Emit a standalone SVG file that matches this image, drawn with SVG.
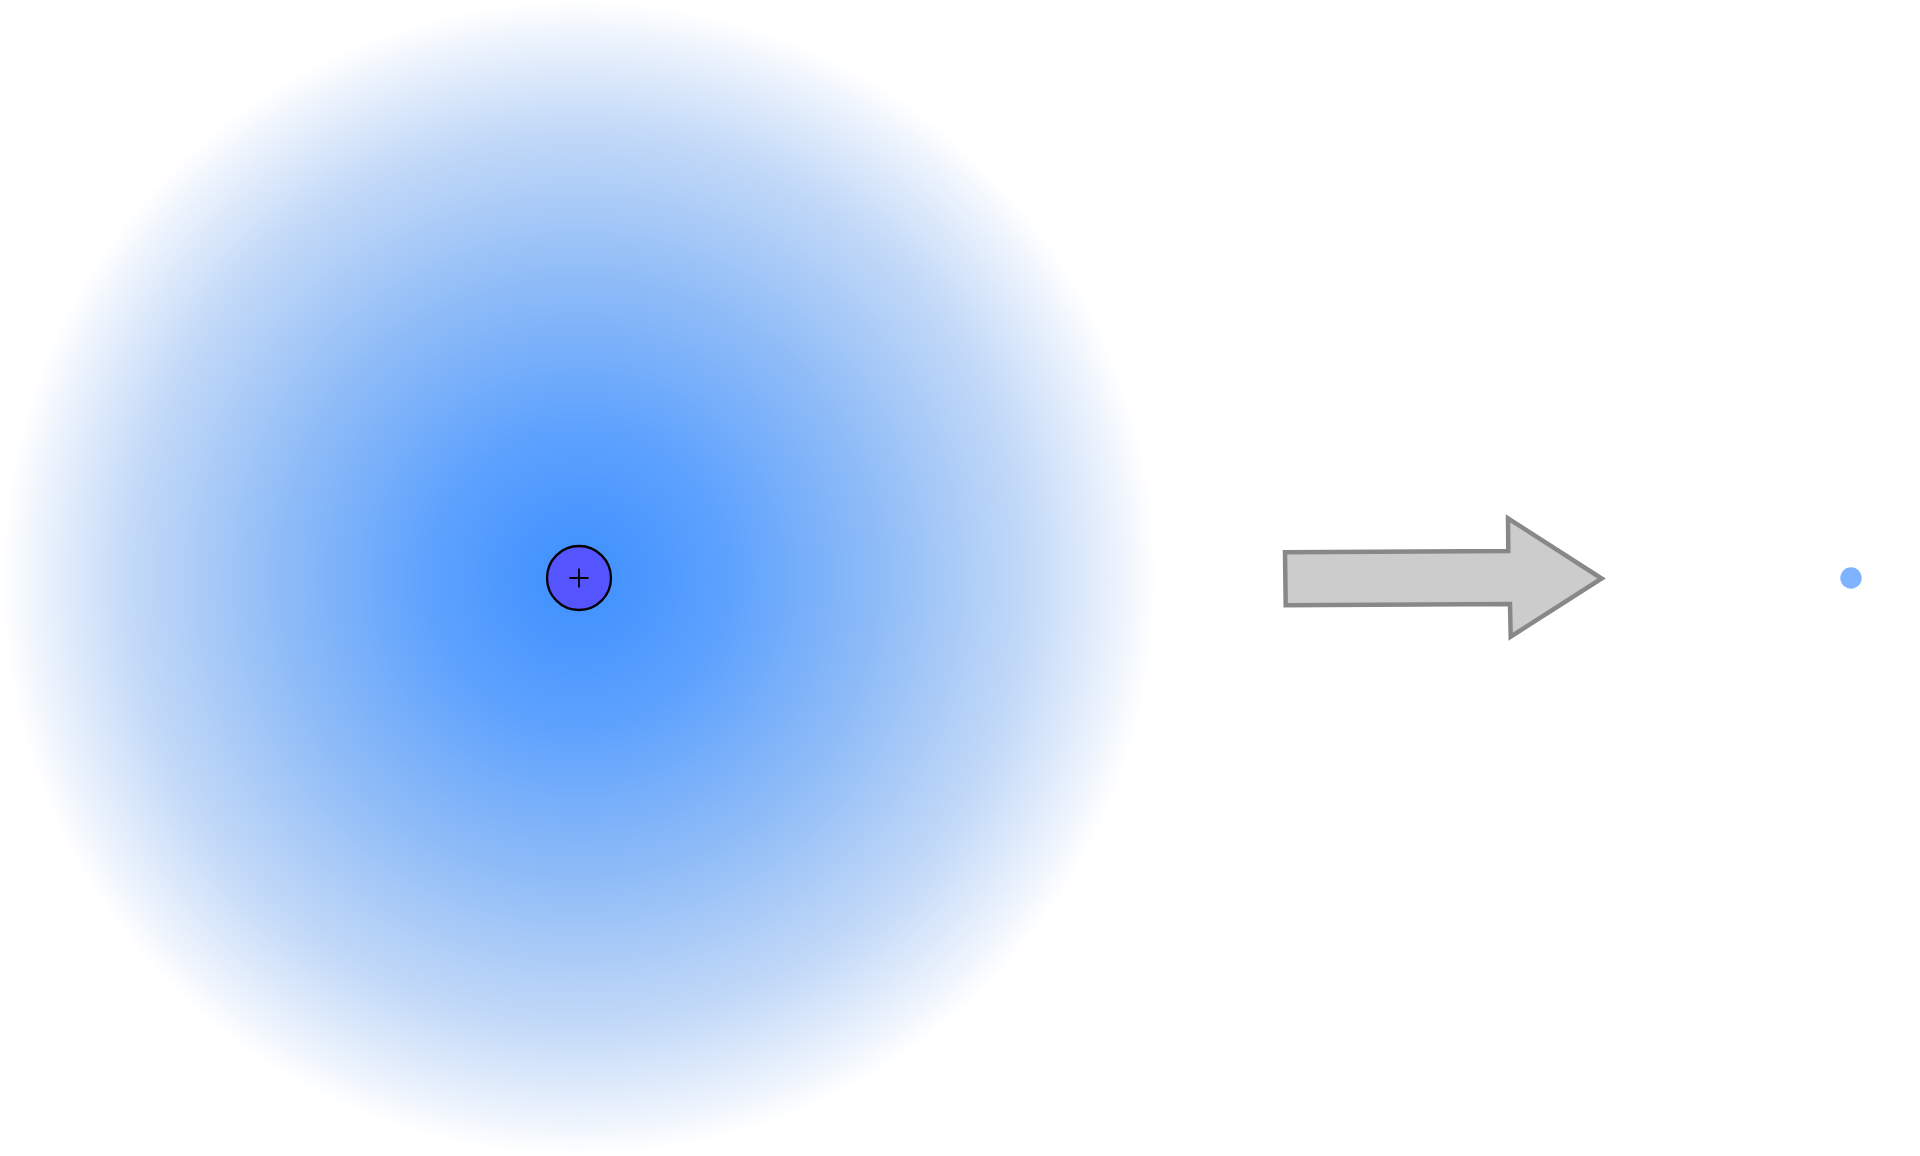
<svg xmlns="http://www.w3.org/2000/svg" width="1920" height="1156" viewBox="0 0 1920 1156">
  <defs>
    <radialGradient id="cloud" cx="579" cy="578" r="578" gradientUnits="userSpaceOnUse">
      <stop offset="0" stop-color="#3d8ffe" stop-opacity="1"/>
      <stop offset="0.26" stop-color="#3d8ffe" stop-opacity="0.83"/>
      <stop offset="0.52" stop-color="#448ff2" stop-opacity="0.6"/>
      <stop offset="0.78" stop-color="#4a8eea" stop-opacity="0.33"/>
      <stop offset="0.92" stop-color="#5090ea" stop-opacity="0.13"/>
      <stop offset="1" stop-color="#5090ea" stop-opacity="0"/>
    </radialGradient>
    <style>
      .nucleus { fill: #5555ff; stroke: #000000; stroke-width: 2.3; }
      .plus { stroke: #000000; stroke-width: 1.8; fill: none; }
      .arrow { fill: #cccccc; stroke: #888888; stroke-width: 4.5; stroke-linejoin: miter; }
      .electron { fill: #80b3ff; }
    </style>
  </defs>
  <rect width="1920" height="1156" fill="#ffffff"/>
  <g id="cloud-node">
    <circle cx="579" cy="578" r="578" fill="url(#cloud)"/>
  </g>
  <g id="nucleus">
    <circle class="nucleus" cx="579" cy="578" r="32"/>
    <path class="plus" d="M569.5 578 H588.5 M579 568.5 V587.5"/>
  </g>
  <g id="connectors">
    <path class="arrow" d="M1285 552.3 L1508.3 551 L1508 518.3 L1601.7 578.5 L1510.7 636.7 L1510 604 L1285.7 605.3 Z"/>
  </g>
  <g id="electron">
    <circle class="electron" cx="1851" cy="578" r="10.7"/>
  </g>
</svg>
